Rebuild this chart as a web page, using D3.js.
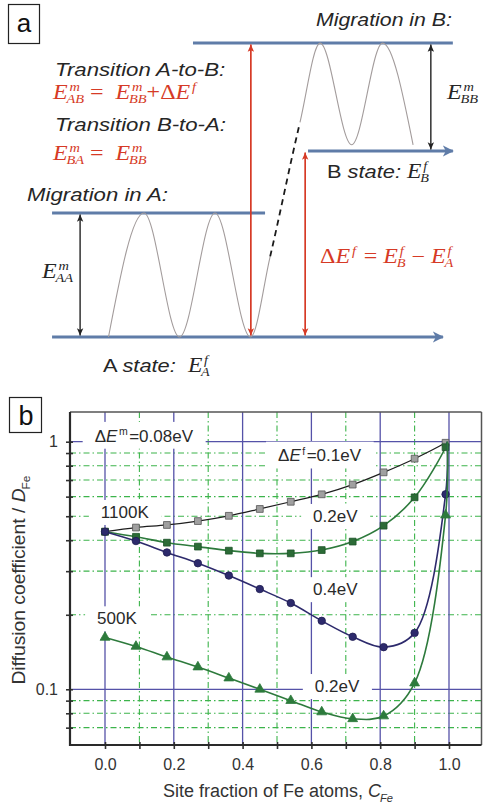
<!DOCTYPE html>
<html>
<head>
<meta charset="utf-8">
<script src="https://cdn.jsdelivr.net/npm/d3@7"></script>
<style>
  body { margin: 0; background: #fff; }
  text { white-space: pre; }
</style>
</head>
<body>
<div id="fig"></div>
<script>
// ---- panel b data ----
var fracFe   = [0, 0.09, 0.18, 0.27, 0.36, 0.45, 0.54, 0.63, 0.72, 0.81, 0.90, 0.99];
var d1100_01 = [0.433, 0.450, 0.461, 0.478, 0.502, 0.535, 0.572, 0.613, 0.671, 0.752, 0.854, 0.990];
var d1100_02 = [0.433, 0.413, 0.391, 0.377, 0.363, 0.354, 0.354, 0.365, 0.395, 0.458, 0.596, 0.950];
var d1100_04 = [0.433, 0.397, 0.357, 0.323, 0.288, 0.254, 0.223, 0.189, 0.163, 0.148, 0.169, 0.613];
var d500_02  = [0.162, 0.149, 0.135, 0.123, 0.111, 0.100, 0.090, 0.081, 0.076, 0.078, 0.106, 0.505];
var curveEnd = [0.995, 1.0];   // every curve runs up to D = 1 at pure Fe

var xTickVals  = [0, 0.1, 0.2, 0.3, 0.4, 0.5, 0.6, 0.7, 0.8, 0.9, 1.0];
var xMajor     = [0, 0.2, 0.4, 0.6, 0.8, 1.0];
var xMinor     = [0.1, 0.3, 0.5, 0.7, 0.9];
var yMajor     = [0.1, 1];
var yMinor     = [0.07, 0.08, 0.09, 0.2, 0.3, 0.4, 0.5, 0.6, 0.7, 0.8, 0.9];

var labelText = ["ΔE^m=0.08eV", "ΔE^f=0.1eV", "1100K", "0.2eV", "0.4eV", "500K", "0.2eV"];
var labelX    = [-0.03, 0.503, -0.012, 0.605, 0.605, -0.023, 0.61];
var labelY    = [1.0, 0.832, 0.492, 0.474, 0.240, 0.183, 0.0975];

// ---- panel a schematic (reaction coordinate, energy in arbitrary units) ----
var levelA = 0, levelAtop = 1.0, levelB = 1.5, levelBtop = 2.37;
var waveRC = [0, 1, 2, 3, 4, 4.55, 5.39, 5.96, 6.85, 7.72, 8.58];
var waveE  = [0, 1, 0, 1, 0, 0.645, 1.726, 2.37, 1.55, 2.37, 1.55];
var dashFrom = 4.55, dashTo = 5.39;

var W = 484, H = 809;
var sans = "'Liberation Sans', Arial, sans-serif";
var serif = "'Liberation Serif', 'Times New Roman', serif";

var svg = d3.select("#fig").append("svg")
    .attr("width", W).attr("height", H)
    .style("background", "#fff");

// one <text> built from pieces; a piece may carry a stacked super/subscript
function rich(parent, x, y, parts, o) {
  var size = o.size, fill = o.fill || "#262626";
  var supY = o.supY || -0.4, subY = o.subY || 0.28, ss = o.ss || 0.62;
  var t = parent.append("text").attr("x", 0).attr("y", 0);
  var cx = 0, base = 0, pend = 0;
  parts.forEach(function (p) {
    var fs = p.size || size;
    var fam = p.serif ? serif : sans;
    var col = p.fill || fill;
    var m = t.append("tspan").attr("dx", pend).attr("dy", -base)
        .style("font-family", fam).style("font-size", fs + "px")
        .style("font-style", p.it ? "italic" : "normal")
        .attr("fill", col).text(p.t);
    var w = m.node().getComputedTextLength();
    cx += pend + w; base = 0; pend = 0;
    if (!p.sup && !p.sub) return;
    var supDx = p.it ? 1.5 : 0.5, subDx = p.it ? -1 : 0;
    var supEnd = 0, subEnd = 0, pos = 0;      // relative to end of the main glyphs
    if (p.sup) {
      var s = t.append("tspan").attr("dx", supDx).attr("dy", fs * supY)
          .style("font-family", fam).style("font-size", fs * ss + "px")
          .style("font-style", p.sit ? "italic" : "normal")
          .attr("fill", col).text(p.sup);
      supEnd = supDx + s.node().getComputedTextLength() + 1.5;
      pos = supEnd - 1.5; base = fs * supY;
    }
    if (p.sub) {
      var b = t.append("tspan").attr("dx", subDx - pos).attr("dy", fs * subY - base)
          .style("font-family", fam).style("font-size", fs * ss + "px")
          .style("font-style", p.sit ? "italic" : "normal")
          .attr("fill", col).text(p.sub);
      subEnd = subDx + b.node().getComputedTextLength();
      pos = subEnd; base = fs * subY;
    }
    var adv = Math.max(supEnd, subEnd);
    pend = adv - pos;
    cx += adv;
  });
  var off = o.anchor === "end" ? -cx : o.anchor === "middle" ? -cx / 2 : 0;
  t.attr("x", off);
  t.attr("transform", "translate(" + x + "," + y + ")" +
      (o.rot ? " rotate(" + o.rot + ")" : "") +
      (o.sx ? " scale(" + o.sx + ",1)" : ""));
  return t;
}

function Em(sup, sub, size) {
  return { t: "E", serif: true, it: true, sup: sup, sub: sub, sit: true, size: size };
}

// ================= panel a =================
var gA = svg.append("g");
var xa = d3.scaleLinear().domain([0, 1]).range([108.5, 144]);
var ya = d3.scaleLinear().domain([0, 1]).range([337, 213]);

var defs = svg.append("defs");
defs.append("marker").attr("id", "blueHead")
    .attr("viewBox", "0 -6 12 12").attr("refX", 10).attr("refY", 0)
    .attr("markerUnits", "userSpaceOnUse").attr("markerWidth", 12).attr("markerHeight", 12)
    .attr("orient", "auto")
  .append("path").attr("d", "M0,-5.5L11,0L0,5.5L3,0Z").attr("fill", "#5f7ca8");
[["redHead", "#d63a26"], ["blackHead", "#222"]].forEach(function (m) {
  defs.append("marker").attr("id", m[0])
      .attr("viewBox", "0 -5 10 10").attr("refX", 9).attr("refY", 0)
      .attr("markerUnits", "userSpaceOnUse").attr("markerWidth", 8).attr("markerHeight", 8)
      .attr("orient", "auto-start-reverse")
    .append("path").attr("d", "M0,-4L9,0L0,4L2,0Z").attr("fill", m[1]);
});

// energy levels
var levels = [
  { x0: -1.59, x1: 4.41, e: levelAtop, arrow: false },
  { x0: -1.59, x1: 9.42, e: levelA, arrow: true },
  { x0: 2.38, x1: 9.7, e: levelBtop, arrow: false },
  { x0: 5.62, x1: 9.7, e: levelB, arrow: true }
];
gA.selectAll("line.level").data(levels).enter().append("line")
    .attr("class", "level")
    .attr("x1", function (d) { return xa(d.x0); })
    .attr("x2", function (d) { return xa(d.x1); })
    .attr("y1", function (d) { return ya(d.e); })
    .attr("y2", function (d) { return ya(d.e); })
    .attr("stroke", "#5f7ca8").attr("stroke-width", 3)
    .attr("marker-end", function (d) { return d.arrow ? "url(#blueHead)" : null; });

// the wave along the reaction coordinate
var wavePts = waveRC.map(function (r, i) { return [r, waveE[i]]; });
var waveLine = d3.line().x(function (d) { return xa(d[0]); }).y(function (d) { return ya(d[1]); })
    .curve(d3.curveMonotoneX);
var wave = gA.append("path").attr("d", waveLine(wavePts))
    .attr("fill", "none").attr("stroke", "#a39c9c").attr("stroke-width", 1.1);
var wn = wave.node(), L = wn.getTotalLength();
function lenAtX(px) {
  var lo = 0, hi = L;
  for (var i = 0; i < 40; i++) {
    var mid = (lo + hi) / 2;
    if (wn.getPointAtLength(mid).x < px) lo = mid; else hi = mid;
  }
  return lo;
}
var s1 = lenAtX(xa(dashFrom)), s2 = lenAtX(xa(dashTo));
wave.attr("stroke-dasharray", s1 + " " + (s2 - s1) + " " + L);
var dashes = [0, s1], acc = 0;
while (acc + 6 <= s2 - s1) { dashes.push(6, 4.5); acc += 10.5; }
dashes.push(0, L);
gA.append("path").attr("d", waveLine(wavePts))
    .attr("fill", "none").attr("stroke", "#1a1a1a").attr("stroke-width", 1.8)
    .attr("stroke-dasharray", dashes.join(" "));

// vertical arrows
var vArrows = [
  { rc: -0.8, e0: levelA, e1: levelAtop, c: "#222", m: "blackHead", w: 1.4 },
  { rc: 4.01, e0: levelA, e1: levelBtop, c: "#d63a26", m: "redHead", w: 1.7 },
  { rc: 5.54, e0: levelA, e1: levelB, c: "#d63a26", m: "redHead", w: 1.7 },
  { rc: 9.08, e0: levelB, e1: levelBtop, c: "#222", m: "blackHead", w: 1.4 }
];
gA.selectAll("line.varrow").data(vArrows).enter().append("line")
    .attr("class", "varrow")
    .attr("x1", function (d) { return xa(d.rc); })
    .attr("x2", function (d) { return xa(d.rc); })
    .attr("y1", function (d) { return ya(d.e0) - 1.5; })
    .attr("y2", function (d) { return ya(d.e1) + 1.5; })
    .attr("stroke", function (d) { return d.c; })
    .attr("stroke-width", function (d) { return d.w; })
    .attr("marker-start", function (d) { return "url(#" + d.m + ")"; })
    .attr("marker-end", function (d) { return "url(#" + d.m + ")"; });

// panel a texts
var red = "#d63a26";
var mathOpt = { size: 20, sx: 1.2, supY: -0.4, subY: 0.18, ss: 0.6 };
function withFill(o, f) { var r = Object.assign({}, o); r.fill = f; return r; }
var labelOpt = { size: 18.5, sx: 1.18, supY: -0.38, subY: 0.2, ss: 0.6 };
gA.append("rect").attr("x", 8.5).attr("y", 4.5).attr("width", 31).attr("height", 39)
    .attr("fill", "#fff").attr("stroke", "#222").attr("stroke-width", 1.2);
gA.append("text").attr("x", 24).attr("y", 32).attr("text-anchor", "middle")
    .style("font-family", sans).style("font-size", "26px").attr("fill", "#111").text("a");

rich(gA, 452, 26, [{ t: "Migration in B:", it: true }], { size: 18.5, anchor: "end", sx: 1.15 });
rich(gA, 55, 76, [{ t: "Transition A-to-B:", it: true }], { size: 18.5, sx: 1.2 });
rich(gA, 53, 99, [Em("m", "AB"), { t: " =  ", serif: true }, Em("m", "BB"),
    { t: "+Δ", serif: true }, Em("f", null)], withFill(mathOpt, red));
rich(gA, 55, 131, [{ t: "Transition B-to-A:", it: true }], { size: 18.5, sx: 1.2 });
rich(gA, 53, 160, [Em("m", "BA"), { t: " =  ", serif: true }, Em("m", "BB")], withFill(mathOpt, red));
rich(gA, 327, 178, [{ t: "B " }, { t: "state: ", it: true }, Em("f", "B", 20)], labelOpt);
rich(gA, 27, 201, [{ t: "Migration in A:", it: true }], { size: 18.5, sx: 1.2 });
rich(gA, 42, 278, [Em("m", "AA")], mathOpt);
rich(gA, 447, 99, [Em("m", "BB")], mathOpt);
rich(gA, 320, 263, [{ t: "Δ", serif: true }, Em("f", null), { t: " = ", serif: true }, Em("f", "B"),
    { t: " − ", serif: true }, Em("f", "A")], withFill(mathOpt, red));
rich(gA, 103, 372, [{ t: "A " }, { t: "state:  ", it: true }, Em("f", "A", 20)], labelOpt);

// ================= panel b =================
var gB = svg.append("g");
var pLeft = 70, pRight = 481.5, pTop = 412, pBottom = 745;
var x = d3.scaleLinear().domain([0, 1]).range([105, 449]);
var y = d3.scaleLog().domain([0.1, 1]).range([689.3, 441.7]);

var greenGrid = "#3cb44b", blueGrid = "#5552a8";
// minor (green dash-dot) grid
gB.selectAll("line.gx").data(xMinor).enter().append("line").attr("class", "gx")
    .attr("x1", function (d) { return x(d); }).attr("x2", function (d) { return x(d); })
    .attr("y1", pTop).attr("y2", pBottom);
gB.selectAll("line.gy").data(yMinor).enter().append("line").attr("class", "gy")
    .attr("x1", pLeft).attr("x2", pRight)
    .attr("y1", function (d) { return y(d); }).attr("y2", function (d) { return y(d); });
gB.selectAll("line.gx, line.gy").attr("stroke", greenGrid).attr("stroke-width", 1.1)
    .attr("stroke-dasharray", "6,3,1.5,3");
// major (blue solid) grid
gB.selectAll("line.bx").data(xMajor).enter().append("line").attr("class", "bx")
    .attr("x1", function (d) { return x(d); }).attr("x2", function (d) { return x(d); })
    .attr("y1", pTop).attr("y2", pBottom);
gB.selectAll("line.by").data(yMajor).enter().append("line").attr("class", "by")
    .attr("x1", pLeft).attr("x2", pRight)
    .attr("y1", function (d) { return y(d); }).attr("y2", function (d) { return y(d); });
gB.selectAll("line.bx, line.by").attr("stroke", blueGrid).attr("stroke-width", 1.3);

// curve labels with white boxes that hide the grid
labelText.forEach(function (s, i) {
  var parts;
  if (s.indexOf("^") > 0) {
    var sup = s.split("^")[1].charAt(0);
    parts = [{ t: "Δ" }, { t: "E", it: true, sup: sup }, { t: s.split("^")[1].slice(1) }];
  } else {
    parts = [{ t: s }];
  }
  var g = gB.append("g");
  var t = rich(g, x(labelX[i]), y(labelY[i]), parts, { size: 17, fill: "#2a2a2a" });
  var bb = t.node().getBBox();
  g.insert("rect", ":first-child")
      .attr("x", x(labelX[i]) + bb.x - 12).attr("y", y(labelY[i]) + bb.y - 3)
      .attr("width", bb.width + 24).attr("height", bb.height + 6)
      .attr("fill", "#fff");
});

// axes
var xAxis = d3.axisBottom(x).tickValues(xTickVals).tickSize(7).tickPadding(10)
    .tickFormat(function (d) { return Math.round(d * 10) % 2 === 0 ? d3.format(".1f")(d) : ""; });
var yAxis = d3.axisLeft(y).tickValues(yMajor.concat(yMinor)).tickSize(7).tickPadding(8)
    .tickFormat(function (d) { return d === 1 ? "1" : d === 0.1 ? "0.1" : ""; });
var ax = gB.append("g").attr("transform", "translate(0," + (pBottom - 3) + ")").call(xAxis);
var ay = gB.append("g").attr("transform", "translate(" + (pLeft + 3) + ",0)").call(yAxis);
[ax, ay].forEach(function (a) {
  a.select(".domain").remove();
  a.selectAll(".tick line").attr("stroke", "#333").attr("stroke-width", 1.6);
  a.selectAll(".tick text").style("font-family", sans).style("font-size", "16px").attr("fill", "#333");
});

// frame
gB.append("line").attr("x1", pLeft).attr("x2", pRight).attr("y1", pTop).attr("y2", pTop)
    .attr("stroke", "#555").attr("stroke-width", 1.5);
gB.append("line").attr("x1", pRight).attr("x2", pRight).attr("y1", pTop).attr("y2", pBottom)
    .attr("stroke", "#555").attr("stroke-width", 1.5);
gB.append("line").attr("x1", pLeft).attr("x2", pLeft).attr("y1", pTop).attr("y2", pBottom + 1)
    .attr("stroke", "#2a2a2a").attr("stroke-width", 2.2);
gB.append("line").attr("x1", pLeft - 1).attr("x2", pRight).attr("y1", pBottom).attr("y2", pBottom)
    .attr("stroke", "#2a2a2a").attr("stroke-width", 2.2);

// series
var series = [
  { vals: d1100_01, line: "#1e1e1e", lw: 1.2, fill: "#a0a0a0", edge: "#555", sym: d3.symbolSquare, size: 46 },
  { vals: d1100_02, line: "#2d7a3c", lw: 1.6, fill: "#2b6b36", edge: "#1d5328", sym: d3.symbolSquare, size: 46 },
  { vals: d1100_04, line: "#2d2a6c", lw: 1.6, fill: "#2d2a6c", edge: "#1f1d52", sym: d3.symbolCircle, size: 44 },
  { vals: d500_02,  line: "#2d7a3c", lw: 1.6, fill: "#2d7a3c", edge: "#2d7a3c", sym: d3.symbolTriangle, size: 42 }
];
var curve = d3.line().x(function (d) { return x(d[0]); }).y(function (d) { return y(d[1]); })
    .curve(d3.curveCatmullRom.alpha(0.5));
series.forEach(function (s) {
  var pts = fracFe.map(function (f, i) { return [f, s.vals[i]]; });
  gB.append("path").attr("d", curve(pts.concat([curveEnd])))
      .attr("fill", "none").attr("stroke", s.line).attr("stroke-width", s.lw);
  gB.selectAll(null).data(pts).enter().append("path")
      .attr("d", d3.symbol().type(s.sym).size(s.size))
      .attr("transform", function (d) { return "translate(" + x(d[0]) + "," + y(d[1]) + ")"; })
      .attr("fill", s.fill).attr("stroke", s.edge).attr("stroke-width", 0.8);
});

// axis titles and panel tag
rich(gB, 25, 580, [{ t: "Diffusion coefficient / " }, { t: "D", it: true, sub: "Fe" }],
    { size: 18, anchor: "middle", rot: -90, sx: 1.07, fill: "#333" });
rich(gB, 278, 797, [{ t: "Site fraction of Fe atoms, " }, { t: "C", it: true, sub: "Fe", sit: true }],
    { size: 18, anchor: "middle", fill: "#333" });
gB.append("rect").attr("x", 9.5).attr("y", 397.5).attr("width", 32).attr("height", 35)
    .attr("fill", "#fff").attr("stroke", "#222").attr("stroke-width", 1.2);
gB.append("text").attr("x", 26).attr("y", 425).attr("text-anchor", "middle")
    .style("font-family", sans).style("font-size", "27px").attr("fill", "#111").text("b");
</script>
</body>
</html>
